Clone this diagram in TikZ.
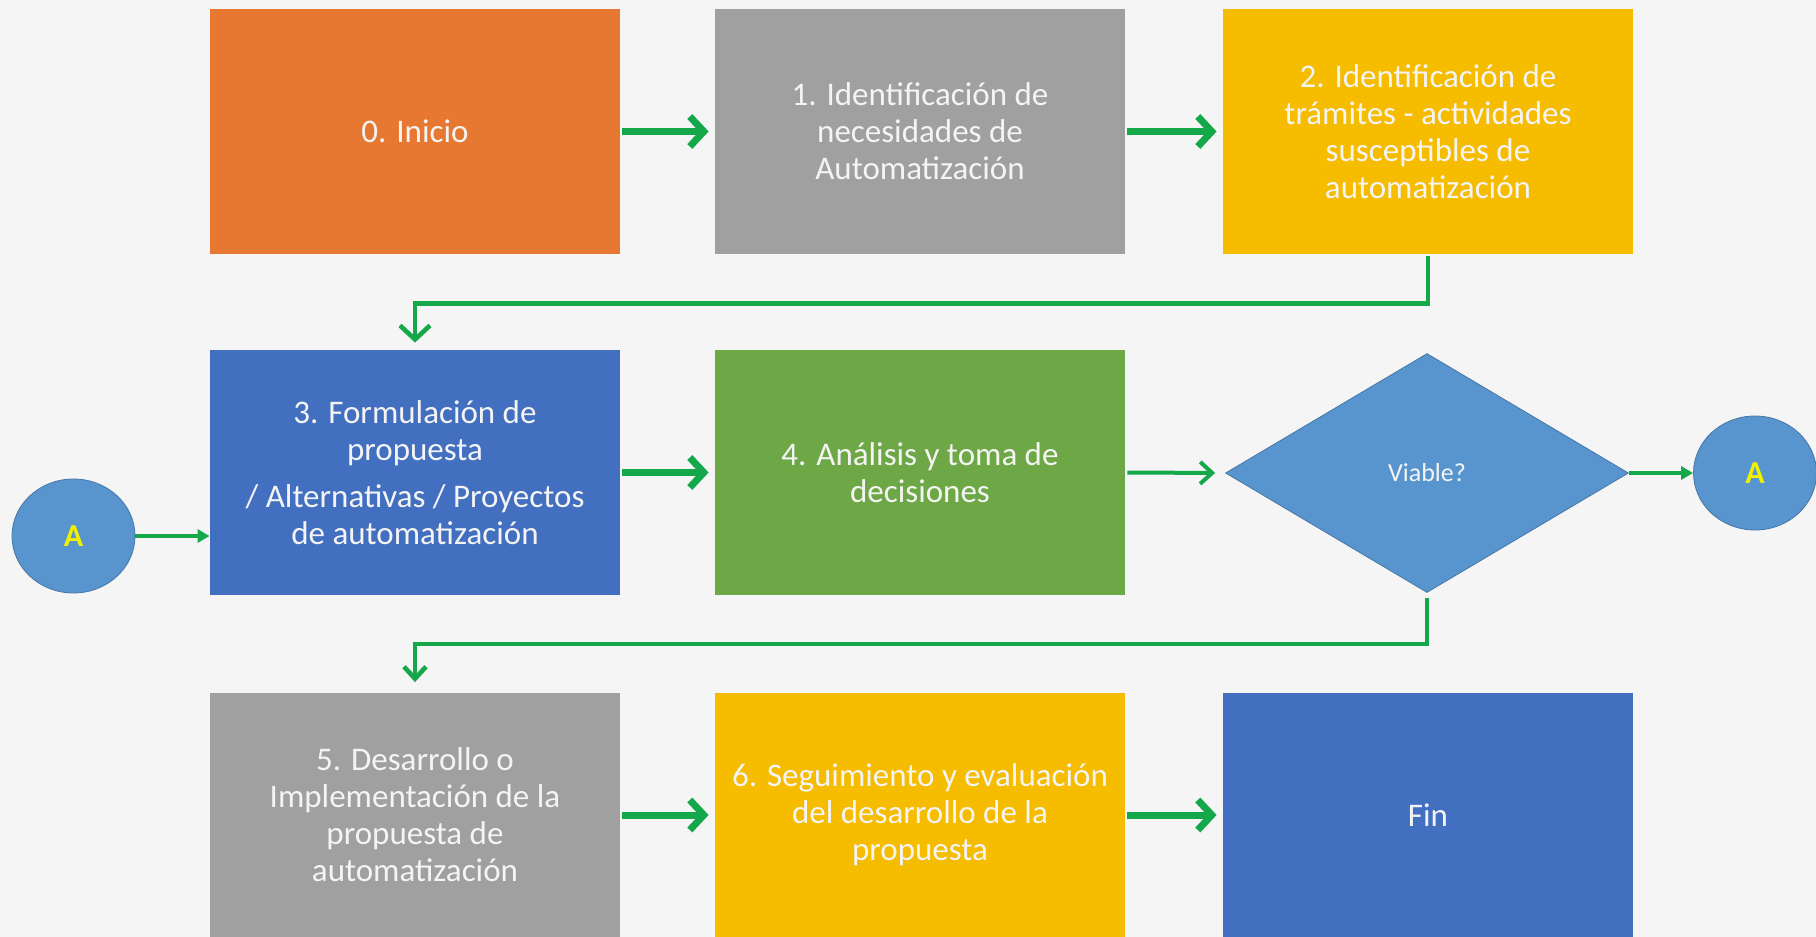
\documentclass[tikz,border=0pt]{standalone}
\usepackage{fontspec}
\setmainfont{Carlito}
\usetikzlibrary{shapes.geometric,arrows.meta,calc}
\definecolor{bgc}{HTML}{F5F5F5}
\definecolor{corange}{HTML}{E67831}
\definecolor{cgray}{HTML}{A0A0A0}
\definecolor{cyellow}{HTML}{F5BC00}
\definecolor{cblue}{HTML}{426FBF}
\definecolor{cgreen}{HTML}{6EA846}
\definecolor{clight}{HTML}{5895CF}
\definecolor{carrow}{HTML}{14A84A}
\definecolor{ctxt}{HTML}{F4F4F4}
\definecolor{cA}{HTML}{F0F000}
\begin{document}
\begin{tikzpicture}[x=0.5pt,y=-0.5pt,
  box/.style={rectangle,inner sep=0pt,minimum width=205pt,minimum height=122.5pt,
    text=ctxt,align=center,font=\fontsize{16.5pt}{18.5pt}\selectfont},
  dec/.style={diamond,inner sep=0pt,minimum width=201.5pt,minimum height=119.5pt,
    fill=clight,draw=clight!80!black,line width=0.4pt,text=ctxt,font=\fontsize{13pt}{15pt}\selectfont},
  conn/.style={ellipse,inner sep=0pt,minimum width=61.5pt,minimum height=57pt,
    fill=clight,draw=clight!80!black,line width=0.4pt,text=cA,font=\fontsize{16pt}{18pt}\selectfont\bfseries},
  thick arr/.style={draw=carrow,line width=3.5pt,-{Straight Barb[length=7pt,width=15pt]},shorten >=3pt,shorten <=1pt},
  mid arr/.style={draw=carrow,line width=2pt,-{Straight Barb[length=6pt,width=11pt]},shorten >=5pt,shorten <=1pt},
  thin arr/.style={draw=carrow,line width=1.6pt,-{Triangle[length=6pt,width=6.5pt]},shorten >=0pt,shorten <=0pt},
  elbow/.style={draw=carrow,line width=2.3pt}
]
\fill[bgc] (0,0) rectangle (1816,937);
\useasboundingbox (0,0) rectangle (1816,937);

% row 1
\node[box,fill=corange] (b0) at (415,131.5) {0. Inicio};
\node[box,fill=cgray] (b1) at (920,131.5) {1. Identificación de\\necesidades de\\Automatización};
\node[box,fill=cyellow] (b2) at (1428,131.5) {2. Identificación de\\trámites - actividades\\susceptibles de\\automatización};
% row 2
\node[box,fill=cblue] (b3) at (415,472.5) {3. Formulación de\\propuesta\\[5pt]/ Alternativas / Proyectos\\de automatización};
\node[box,fill=cgreen] (b4) at (920,472.5) {4. Análisis y toma de\\decisiones};
\node[dec] (d) at (1427,473) {Viable?};
\node[conn] (aL) at (73.5,536) {A};
\node[conn] (aR) at (1755,473) {A};
% row 3
\node[box,fill=cgray] (b5) at (415,815) {5. Desarrollo o\\Implementación de la\\propuesta de\\automatización};
\node[box,fill=cyellow] (b6) at (920,815) {6. Seguimiento y evaluación\\del desarrollo de la\\propuesta};
\node[box,fill=cblue] (b7) at (1428,815) {Fin};

% connectors
\draw[thick arr] (b0) -- (b1);
\draw[thick arr] (b1) -- (b2);
\draw[thick arr] (b3) -- (b4);
\draw[mid arr] (b4.east) -- (d.west);
\draw[thin arr] (d.east) -- (aR.west);
\draw[thin arr] (aL.east) -- (aL.east -| b3.west);
\draw[thick arr] (b5) -- (b6);
\draw[thick arr] (b6) -- (b7);

\draw[elbow,-{Straight Barb[length=7pt,width=15pt]},shorten >=3.5pt,shorten <=1pt]
  (b2.south) -- ++(0,49) coordinate (e1) -| (b3.north);
\draw[elbow,-{Straight Barb[length=6pt,width=11pt]},shorten >=5pt,shorten <=2.5pt]
  (d.south) -- ++(0,51) coordinate (e2) -| (b5.north);
\end{tikzpicture}
\end{document}
